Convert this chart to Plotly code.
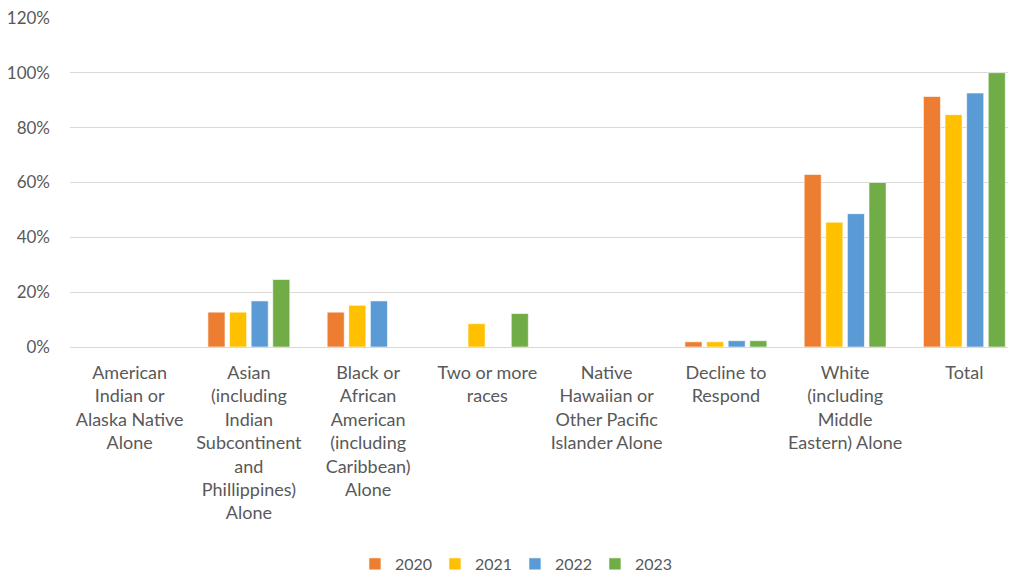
import plotly.graph_objects as go

categories = [
    "American<br>Indian or<br>Alaska Native<br>Alone",
    "Asian<br>(including<br>Indian<br>Subcontinent<br>and<br>Phillippines)<br>Alone",
    "Black or<br>African<br>American<br>(including<br>Caribbean)<br>Alone",
    "Two or more<br>races",
    "Native<br>Hawaiian or<br>Other Pacific<br>Islander Alone",
    "Decline to<br>Respond",
    "White<br>(including<br>Middle<br>Eastern) Alone",
    "Total",
]
years = ["2020", "2021", "2022", "2023"]
v2020 = [0.0, 0.127, 0.127, 0.0, 0.0, 0.019, 0.629, 0.913]
v2021 = [0.0, 0.127, 0.152, 0.085, 0.0, 0.019, 0.455, 0.847]
v2022 = [0.0, 0.168, 0.168, 0.0, 0.0, 0.023, 0.486, 0.926]
v2023 = [0.0, 0.246, 0.0, 0.122, 0.0, 0.023, 0.600, 1.0]
colors = ["#ED7D31", "#FFC000", "#5B9BD5", "#70AD47"]

series = [v2020, v2021, v2022, v2023]
fig = go.Figure()
for name, vals, col in zip(years, series, colors):
    fig.add_trace(go.Bar(
        x=categories, y=vals, name=name,
        marker=dict(color=col, line=dict(color="rgba(255,255,255,0.6)", width=1)),
    ))

font_family = "Lato, 'Liberation Sans', sans-serif"
fig.update_layout(
    width=1016, height=573,
    margin=dict(l=62, r=0, t=9, b=234, autoexpand=False),
    paper_bgcolor="white", plot_bgcolor="white",
    barmode="group", bargap=0.275, bargroupgap=0.21,
    font=dict(family=font_family, size=18, color="#595959"),
    showlegend=True,
    legend=dict(orientation="h", x=0.2987, xanchor="left", y=-0.709, yanchor="bottom",
                font=dict(size=16, color="#595959"), entrywidth=35,
                entrywidthmode="pixels", tracegroupgap=0),
    xaxis=dict(showgrid=False, showline=False, ticks="", tickangle=0, automargin=False,
               range=[-0.5, 7.5],
               tickfont=dict(size=18, color="#595959"), ticklabelstandoff=13),
    yaxis=dict(range=[0, 1.203], tickvals=[0, 0.2, 0.4, 0.6, 0.8, 1.0, 1.2],
               tickformat=".0%", showgrid=True, automargin=False,
               gridcolor="#D9D9D9", gridwidth=1, zeroline=True, zerolinecolor="#D9D9D9",
               zerolinewidth=1, showline=False, ticks="", ticklabeloverflow="allow",
               tickfont=dict(size=17, color="#595959"), ticklabelstandoff=19),
)
fig.write_html("out.html")
